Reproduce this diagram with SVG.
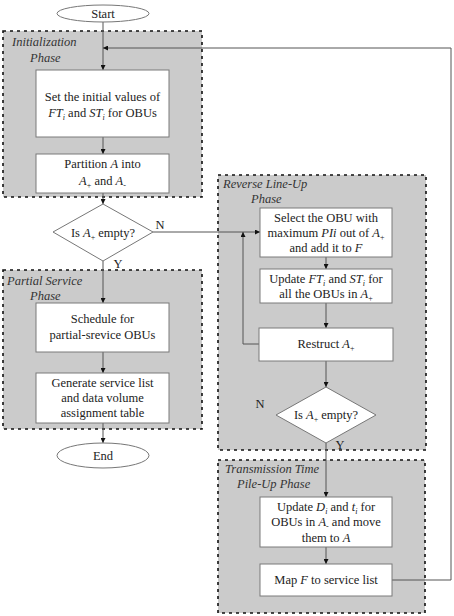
<svg xmlns="http://www.w3.org/2000/svg" width="454" height="616" viewBox="0 0 454 616">
<style>
.phase{fill:#cbcbcb;stroke:#111;stroke-width:1.6;stroke-dasharray:3 4}
.box{fill:#fff;stroke:#7a7a7a;stroke-width:1}
.t{font-family:"Liberation Serif","Times New Roman",serif;font-size:12.5px;fill:#222;text-anchor:middle}
.pl{font-family:"Liberation Serif","Times New Roman",serif;font-size:12.5px;fill:#333;font-style:italic}
.i{font-style:italic}
.s{font-size:8px}
.c{fill:none;stroke:#555;stroke-width:1}
</style>
<defs>
<marker id="ah" viewBox="0 0 8 8" refX="8" refY="4" markerWidth="5" markerHeight="5" orient="auto" markerUnits="userSpaceOnUse">
<path d="M0,0 L8,4 L0,8 z" fill="#111"/>
</marker>
</defs>
<rect width="454" height="616" fill="#fff"/>

<g id="phase-init"><rect class="phase" x="3" y="31" width="199" height="166"/>
<text class="pl" x="12" y="46">Initialization</text><text class="pl" x="30" y="62">Phase</text></g>
<g id="phase-partial"><rect class="phase" x="3" y="270" width="199" height="159"/>
<text class="pl" x="7" y="285">Partial Service</text><text class="pl" x="30" y="300">Phase</text></g>
<g id="phase-reverse"><rect class="phase" x="218" y="175" width="208" height="275"/>
<text class="pl" x="223" y="188">Reverse Line-Up</text><text class="pl" x="251" y="203">Phase</text></g>
<g id="phase-trans"><rect class="phase" x="218" y="460" width="207" height="153"/>
<text class="pl" x="225" y="473">Transmission Time</text><text class="pl" x="237" y="488">Pile-Up Phase</text></g>

<g id="connectors">
<path class="c" d="M103,22 V70" marker-end="url(#ah)"/>
<path class="c" d="M103,137 V154" marker-end="url(#ah)"/>
<path class="c" d="M103,193 V204" marker-end="url(#ah)"/>
<path class="c" d="M153,232 H260" marker-end="url(#ah)"/>
<path class="c" d="M103,261 V303" marker-end="url(#ah)"/>
<path class="c" d="M103,352 V373" marker-end="url(#ah)"/>
<path class="c" d="M103,423 V443" marker-end="url(#ah)"/>
<path class="c" d="M326,257 V269" marker-end="url(#ah)"/>
<path class="c" d="M326,303 V328" marker-end="url(#ah)"/>
<path class="c" d="M326,361 V387" marker-end="url(#ah)"/>
<path class="c" d="M259,344 H243 V232" marker-end="url(#ah)"/>
<path class="c" d="M326,443 V497" marker-end="url(#ah)"/>
<path class="c" d="M326,547 V564" marker-end="url(#ah)"/>
<path class="c" d="M392,580 H451 V48 H103" marker-end="url(#ah)"/>
<text class="t" x="160" y="229">N</text>
<text class="t" x="118" y="268">Y</text>
<text class="t" x="260" y="408">N</text>
<text class="t" x="340" y="449">Y</text>
</g>

<g id="start"><ellipse cx="103" cy="13.5" rx="46" ry="8.5" fill="#fff" stroke="#777"/>
<text class="t" x="103" y="18">Start</text></g>

<g id="init-values"><rect class="box" x="36" y="70" width="133" height="67"/>
<text class="t" x="102.5" y="101">Set the initial values of</text>
<text class="t" x="102.5" y="117"><tspan class="i">FT</tspan><tspan class="i s" dy="3">i</tspan><tspan dy="-3"> and </tspan><tspan class="i">ST</tspan><tspan class="i s" dy="3">i</tspan><tspan dy="-3"> for OBUs</tspan></text></g>

<g id="partition"><rect class="box" x="36" y="154" width="133" height="39"/>
<text class="t" x="102.5" y="168">Partition <tspan class="i">A</tspan> into</text>
<text class="t" x="102.5" y="185"><tspan class="i">A</tspan><tspan class="s" dy="3">+</tspan><tspan dy="-3"> and </tspan><tspan class="i">A</tspan><tspan class="s" dy="3">-</tspan></text></g>

<g id="decision1"><path d="M103,204 L153,232 L103,261 L53,232 z" fill="#fff" stroke="#777"/>
<text class="t" x="103" y="237">Is <tspan class="i">A</tspan><tspan class="s" dy="3">+</tspan><tspan dy="-3"> empty?</tspan></text></g>

<g id="schedule"><rect class="box" x="36" y="303" width="133" height="49"/>
<text class="t" x="102.5" y="323">Schedule for</text>
<text class="t" x="102.5" y="339">partial-srevice OBUs</text></g>

<g id="generate"><rect class="box" x="36" y="373" width="133" height="50"/>
<text class="t" x="102.5" y="387">Generate service list</text>
<text class="t" x="102.5" y="402">and data volume</text>
<text class="t" x="102.5" y="417">assignment table</text></g>

<g id="end"><ellipse cx="103" cy="455.5" rx="46" ry="12.5" fill="#fff" stroke="#777"/>
<text class="t" x="103" y="460">End</text></g>

<g id="select"><rect class="box" x="260" y="208" width="132" height="49"/>
<text class="t" x="326" y="222">Select the OBU with</text>
<text class="t" x="326" y="237">maximum <tspan class="i">PIi</tspan> out of <tspan class="i">A</tspan><tspan class="s" dy="3">+</tspan></text>
<text class="t" x="326" y="252">and add it to <tspan class="i">F</tspan></text></g>

<g id="update-ft"><rect class="box" x="260" y="269" width="132" height="34"/>
<text class="t" x="326" y="283">Update <tspan class="i">FT</tspan><tspan class="i s" dy="3">i</tspan><tspan dy="-3"> and </tspan><tspan class="i">ST</tspan><tspan class="i s" dy="3">i</tspan><tspan dy="-3"> for</tspan></text>
<text class="t" x="326" y="298">all the OBUs in <tspan class="i">A</tspan><tspan class="s" dy="3">+</tspan></text></g>

<g id="restruct"><rect class="box" x="259" y="328" width="134" height="33"/>
<text class="t" x="326" y="348">Restruct <tspan class="i">A</tspan><tspan class="s" dy="3">+</tspan></text></g>

<g id="decision2"><path d="M326,387 L376,415 L326,443 L276,415 z" fill="#fff" stroke="#777"/>
<text class="t" x="326" y="419">Is <tspan class="i">A</tspan><tspan class="s" dy="3">+</tspan><tspan dy="-3"> empty?</tspan></text></g>

<g id="update-d"><rect class="box" x="260" y="497" width="132" height="50"/>
<text class="t" x="326" y="511">Update <tspan class="i">D</tspan><tspan class="i s" dy="3">i</tspan><tspan dy="-3"> and </tspan><tspan class="i">t</tspan><tspan class="i s" dy="3">i</tspan><tspan dy="-3"> for</tspan></text>
<text class="t" x="326" y="526">OBUs in <tspan class="i">A</tspan><tspan class="s" dy="3">-</tspan><tspan dy="-3"> and move</tspan></text>
<text class="t" x="326" y="542">them to <tspan class="i">A</tspan></text></g>

<g id="map"><rect class="box" x="260" y="564" width="132" height="32"/>
<text class="t" x="326" y="584">Map <tspan class="i">F</tspan> to service list</text></g>
</svg>
